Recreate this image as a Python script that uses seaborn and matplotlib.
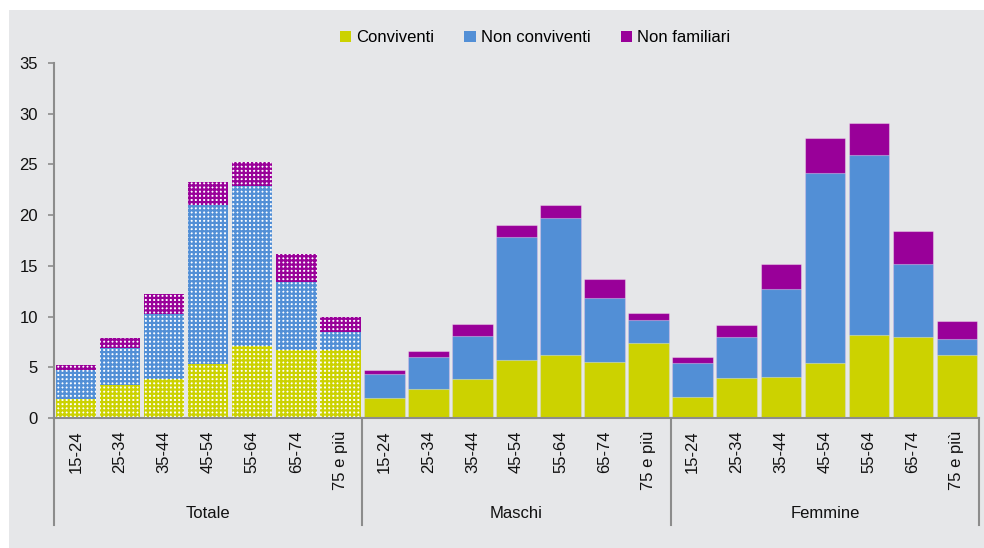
import numpy as np
import pandas as pd
import matplotlib
matplotlib.use("Agg")
import matplotlib.pyplot as plt
from matplotlib.patches import Patch, Rectangle
import seaborn as sns

# ---- data ----
groups = ["Totale", "Maschi", "Femmine"]
ages = ["15-24", "25-34", "35-44", "45-54", "55-64", "65-74", "75 e più"]
series = ["Conviventi", "Non conviventi", "Non familiari"]

conviventi_tot = [1.9, 3.3, 3.8, 5.3, 7.1, 6.7, 6.7]
nonconv_tot = [2.8, 3.6, 6.5, 15.7, 15.8, 6.7, 1.8]
nonfam_tot = [0.5, 1.0, 1.9, 2.3, 2.3, 2.8, 1.5]

conviventi_m = [2.0, 2.9, 3.8, 5.7, 6.2, 5.5, 7.4]
nonconv_m = [2.3, 3.1, 4.3, 12.1, 13.5, 6.3, 2.3]
nonfam_m = [0.4, 0.6, 1.2, 1.2, 1.3, 1.9, 0.7]

conviventi_f = [2.1, 3.9, 4.0, 5.4, 8.2, 8.0, 6.2]
nonconv_f = [3.3, 4.1, 8.7, 18.8, 17.7, 7.2, 1.6]
nonfam_f = [0.6, 1.2, 2.5, 3.4, 3.2, 3.2, 1.8]

yticks = [0, 5, 10, 15, 20, 25, 30, 35]

colors = {"Conviventi": "#CCD200", "Non conviventi": "#528FD6", "Non familiari": "#990099"}
bg = "#E6E7E9"
axis_col = "#8C8C8C"

# ---- build table ----
rows = []
for g, c, n, f in [("Totale", conviventi_tot, nonconv_tot, nonfam_tot),
                   ("Maschi", conviventi_m, nonconv_m, nonfam_m),
                   ("Femmine", conviventi_f, nonconv_f, nonfam_f)]:
    for a, cv, nv, fv in zip(ages, c, n, f):
        rows.append({"key": f"{g}|{a}", "group": g, "age": a,
                     "Conviventi": cv, "Non conviventi": nv, "Non familiari": fv})
df = pd.DataFrame(rows)
df["cum1"] = df["Conviventi"]
df["cum2"] = df["cum1"] + df["Non conviventi"]
df["cum3"] = df["cum2"] + df["Non familiari"]
order = list(df["key"])

plt.rcParams["font.family"] = ["Liberation Sans", "DejaVu Sans"]
plt.rcParams["hatch.linewidth"] = 1.6

W, H = 984, 548
fig = plt.figure(figsize=(W / 100, H / 100), dpi=100)
fig.patch.set_facecolor("white")
fig.add_artist(Rectangle((9 / W, 0), 1 - 9 / W, 1 - 10 / H, transform=fig.transFigure,
                         facecolor=bg, edgecolor="none", zorder=-10))

left, right, top, bottom = 54, 979, 63, 418
ax = fig.add_axes([left / W, 1 - bottom / H, (right - left) / W, (bottom - top) / H])
ax.set_facecolor(bg)
ax.patch.set_alpha(0)

for col, name in [("cum3", "Non familiari"), ("cum2", "Non conviventi"), ("cum1", "Conviventi")]:
    n0 = len(ax.patches)
    sns.barplot(data=df, x="key", y=col, order=order, color=colors[name],
                saturation=1, width=0.92, ax=ax, errorbar=None)
    new = ax.patches[n0:]
    for i, p in enumerate(new):
        if df["group"].iloc[i] == "Totale":
            p.set_facecolor("white")
            p.set_edgecolor(colors[name])
            p.set_hatch("++++")
            p.set_linewidth(0)
        else:
            p.set_edgecolor((1, 1, 1, 0.35))
            p.set_linewidth(0.8)

ax.set_xlim(-0.5, 20.5)
ax.set_ylim(0, 35)
ax.set_yticks(yticks)
ax.set_yticklabels([str(v) for v in yticks], fontsize=12, color="#111111")
ax.set_xticks(range(len(order)))
ax.set_xticklabels(list(df["age"]), rotation=90, fontsize=12, color="#111111", va="top")
ax.tick_params(axis="x", length=0, pad=9)
ax.tick_params(axis="y", length=4.5, width=1.2, color=axis_col, pad=7)
ax.set_xlabel("")
ax.set_ylabel("")
for s in ["top", "right"]:
    ax.spines[s].set_visible(False)
for s in ["left", "bottom"]:
    ax.spines[s].set_color(axis_col)
    ax.spines[s].set_linewidth(1.5)

# group separators and labels
trans = ax.get_xaxis_transform()
ybot = -(525 - bottom) / (bottom - top)
for xs in [-0.5, 6.5, 13.5, 20.5]:
    ax.plot([xs, xs], [0, ybot], transform=trans, color=axis_col, lw=1.5, clip_on=False)
ylab = -(513 - bottom) / (bottom - top)
for gi, g in enumerate(groups):
    ax.text(gi * 7 + 3, ylab, g, transform=trans, ha="center", va="center",
            fontsize=12, color="#111111")

handles = [Patch(facecolor=colors[s], edgecolor="none") for s in series]
fig.legend(handles, series, loc="center", bbox_to_anchor=(535 / W, 1 - 38 / H),
           ncol=3, frameon=False, fontsize=12, handlelength=0.7, handleheight=0.7,
           handletextpad=0.3, columnspacing=1.8)

fig.savefig("out.png", dpi=100, facecolor="white")
